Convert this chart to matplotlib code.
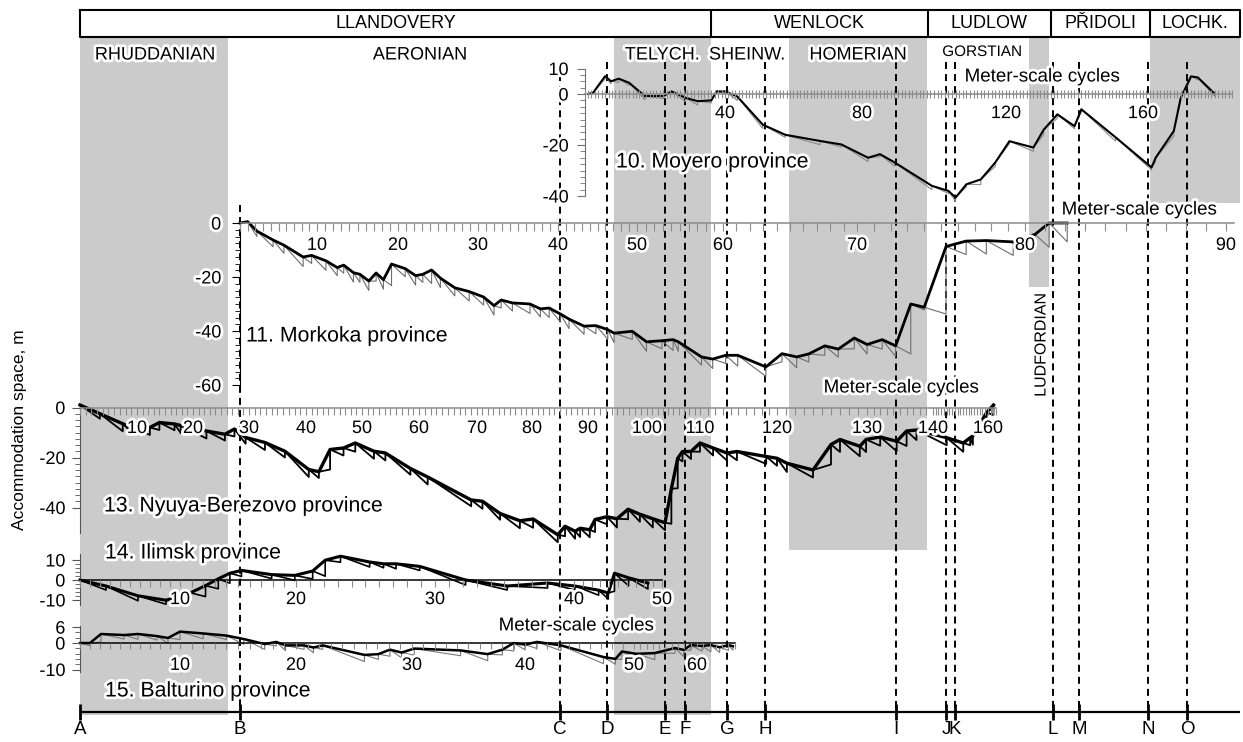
import numpy as np
import matplotlib.pyplot as plt
import matplotlib.patheffects as pe
from matplotlib.ticker import FixedLocator

plt.rcParams['font.family'] = ['Liberation Sans', 'DejaVu Sans']

W, H = 1243, 742

# common time frame: boundaries A-O, series and stages (horizontal position, px)
letters = list('ABCDEFGHIJKLMNO')
letter_t = [80, 240, 560, 607, 665, 685, 727, 765, 896, 946, 955, 1053, 1079, 1148, 1187]
series = ['LLANDOVERY', 'WENLOCK', 'LUDLOW', 'PŘIDOLI', 'LOCHK.']
series_edges = [80, 711, 928, 1051, 1150, 1240]
stages = ['RHUDDANIAN', 'AERONIAN', 'TELYCH.', 'SHEINW.', 'HOMERIAN', 'GORSTIAN']
stage_t = [155, 420, 662, 747, 858, 982]
grey_from = [80, 614, 789, 1029, 1150]
grey_to = [228, 711, 927, 1049, 1240]

# 10. Moyero province: cycle number -> accommodation (m), tooth depth
moy_tick_c = [0, 40, 80, 120, 160]
moy_tick_t = [588, 725, 862, 1006, 1143]
moy_c = [0, 1.5, 5, 6.7, 9, 12, 16.6, 22, 24.4, 28.5, 32, 36, 37.5, 40, 43.6, 51, 57.6,
         67.7, 74, 81.7, 85, 89, 99.4, 104, 106, 109, 113, 117, 121, 128, 131, 135,
         140, 142, 152, 162.5, 163.7, 169, 171, 174, 176, 181]
moy_v = [0, 0.5, 7, 5, 6, 4.4, -0.8, -0.8, 1, -1.5, -2.8, -2.5, 1, 1, -1, -12, -16,
         -18.4, -19.8, -25, -23.6, -26.8, -36, -38, -40.6, -35.4, -33.5, -26.9, -18.5,
         -21, -14, -8, -12.6, -6, -17, -28.8, -25, -14.5, -1.6, 6.9, 6.5, 0]
moy_d = [0, 0.5, 1, 1, 1.5, 1, 1.5, 1, 0.5, 1.5, 1.5, 1, 0.5, 1, 1.5, 1.5, 1, 1.5, 1, 1.5,
         1, 1.5, 1.5, 1, 1.5, 1, 2, 1.5, 1, 1.5, 2, 1.5, 1, 1, 1.5, 1, 1.5, 2, 1, 1,
         1, 1]

# 11. Morkoka province
mor_tick_c = [0, 10, 20, 30, 40, 50, 60, 70, 80, 90]
mor_tick_t = [240, 317, 398, 478, 558, 637, 723, 857, 1025, 1226]
mor_c = [0, 1, 2.2, 4.3, 5.7, 8.2, 9.3, 11.1, 12.5, 13.3, 14.5, 15.3, 16.4, 17.3, 18.2,
         19.2, 20.9, 22.2, 23.1, 24.2, 25.3, 27.1, 28.9, 30.7, 32, 32.9, 34.3, 36.5,
         37.8, 38.9, 40.3, 41.4, 43.3, 44.8, 46.3, 47.1, 49.4, 51.1, 52.9, 54.2, 54.8,
         57.5, 58.8, 60.2, 61.1, 63.2, 64.4, 65.5, 66.4, 67.6, 68.6, 69.8, 70.6, 71.5,
         72.3, 73.2, 74, 75.3, 76.5, 77.7, 79.3, 80.5, 81.2, 82.1]
mor_v = [0, 0.5, -3, -6.3, -8.2, -12.6, -12, -14, -16.5, -15.6, -18.4, -19, -21.5, -18.5,
         -21, -15.2, -16.9, -19.5, -19, -17.4, -20.4, -24, -25.4, -27.4, -30.6, -28.5,
         -29.6, -30, -31.8, -31.5, -33.7, -35.6, -38.2, -38, -39.5, -40.8, -40.1, -44,
         -43.6, -43.2, -44, -49.6, -50.4, -49, -49, -53.3, -48.4, -49.6, -48.5, -45.5,
         -46.7, -42.6, -45, -43.2, -45.5, -30, -31.2, -8.7, -6.7, -6.5, -7, -4.2, 0, 0]
mor_d = [0, 0, 2, 2.5, 3, 3.5, 3, 3.5, 3, 3, 3.5, 3, 3.5, 3, 3.5, 8, 3, 3.5, 3, 5,
         3.5, 3, 3.5, 3, 3.5, 3, 3, 3.5, 3, 3.5, 3, 3.5, 3, 3, 3.5, 3.5, 3, 3.5, 3, 4,
         3.5, 3, 3.5, 3, 4, 3.5, 3, 4, 3, 3.5, 3, 4, 3.5, 3.5, 4, 18.5, 1, 25, 5, 5,
         5, 6, 9, 7]

# 13. Nyuya-Berezovo province
nyu_tick_c = [0, 10, 20, 30, 40, 50, 60, 70, 80, 90, 100, 110, 120, 130, 140, 160]
nyu_tick_t = [80, 137, 193, 249, 306, 362, 419, 477, 532, 588, 647, 700, 777, 867, 933, 988]
nyu_c = [0, 3.5, 7.5, 9.3, 12.3, 14, 16.7, 17.8, 22.4, 25.7, 27.4, 29.4, 32.8, 36.3,
         40.5, 42.3, 44.3, 46.7, 48.8, 52.1, 54.1, 58.5, 61.5, 69, 71, 74.2, 77.8, 80.2,
         84.6, 85.9, 87.7, 88.6, 90.3, 91.2, 93.2, 94.9, 96.8, 98.8, 101.1, 103.4,
         104.6, 105.8, 106.7, 108.3, 110, 111.7, 113.5, 114.8, 118.6, 120, 121.1, 124,
         126, 127, 129.2, 129.9, 132, 134.5, 136, 137.5, 145, 151, 153.5, 154.5, 159.5,
         162]
nyu_v = [1, -2.5, -6.5, -8, -8, -6, -6.6, -7.2, -9.4, -10.7, -8.6, -12, -14, -17.5,
         -24.8, -25.7, -16.8, -16.2, -14.2, -17.5, -18.2, -24.4, -27.8, -37, -37.5,
         -42.4, -45.3, -44.6, -50.9, -47.5, -49.5, -48.3, -48.9, -44.8, -43.7, -44.5,
         -40.7, -42.7, -44.5, -46.1, -32.5, -20.3, -17.6, -17.6, -14.2, -16.2, -18.2,
         -17.6, -19.6, -20.3, -22.3, -25, -14.8, -12.8, -15.5, -12.8, -11.8, -13.5,
         -9.4, -9, -12.1, -14.2, -12.1, -11.4, -2, 1]
nyu_d = [0, 2, 3, 2.5, 3, 3, 2.5, 3, 3, 2.5, 3, 2.5, 3, 2.5, 3, 2.5, 8, 3, 3.5, 3,
         3, 2.5, 3, 2.5, 3, 2.5, 3, 3.5, 3, 4, 3, 3.5, 3, 5, 3, 3.5, 4, 3, 3.5, 3,
         14, 12, 4, 3, 3.5, 3, 3, 3.5, 3, 3, 3.5, 3, 8, 5, 4, 5, 3.5, 4, 6, 4,
         3, 3.5, 3, 3.5, 3, 4]

# 14. Ilimsk province
ili_tick_c = [0, 10, 20, 30, 40, 50]
ili_tick_t = [80, 180, 296, 435, 574, 662]
ili_c = [0, 2.6, 5.8, 8.6, 10.9, 12.2, 13.3, 14.3, 15.3, 17.9, 19.9, 21.2, 22.1, 23.2,
         25.3, 26.3, 27.2, 28.9, 32.2, 35.2, 38.1, 40.1, 42.8, 43.9, 44.6, 46.2, 48.4]
ili_v = [0, -3.0, -7.9, -10.1, -6.4, -2.8, 0.6, 3.4, 4.8, 2.7, 2.3, 4.5, 9.9, 11.9,
         9.0, 8.1, 8.1, 6.8, 0, -3.0, -1.5, -3.0, -5.1, -6.5, 3.4, 1.1, -1.5]
ili_d = [0, 2, 2.5, 2, 5, 5.5, 5, 5, 3, 2, 2.5, 4, 8, 3, 2.5, 2, 2.5, 2, 2.5, 2, 2.5,
         2, 2.5, 3, 9, 4, 3]

# 15. Balturino province
bal_tick_c = [0, 10, 20, 30, 40, 50, 60]
bal_tick_t = [80, 180, 296, 412, 525, 634, 697]
bal_c = [0, 1, 2.1, 4.4, 5.8, 7.7, 8.8, 10, 12, 14, 15.5, 17.3, 18.3, 19.1, 20.7, 21.5,
         22.3, 25.9, 27.1, 28.1, 29.1, 30.2, 34.3, 36.7, 38, 39, 40, 41.1, 43.3, 47.2,
         48.3, 48.9, 50.4, 53.3, 56.5, 57.9, 59, 60.8, 62.2, 63.6, 65, 65.7]
bal_v = [0, 0, 3.4, 3.0, 3.4, 2.6, 1.9, 4.3, 3.6, 2.8, 1.5, -0.4, 0.4, -0.9, -0.9, -1.7,
         -0.9, -4.5, -4.2, -2.5, -3.6, -2.1, -2.8, -4.2, -2.5, 0, -0.6, 0.4, -0.9, -5.3,
         -6.0, -3.2, -4.1, -3.8, -1.9, -2.6, -0.8, -1.1, -0.8, -1.6, -0.8, -1.2]
bal_d = [0, 1, 3, 1.5, 2, 1.5, 2, 3, 2, 1.5, 2, 2, 1.5, 2, 1.5, 2, 1.5, 2.5, 2, 2.5,
         2, 2.5, 2, 2.5, 2, 3, 2, 2.5, 2, 2.5, 2, 3, 2, 2.5, 2, 2.5, 2, 2, 2.5, 2,
         2, 1.5]

halo = [pe.withStroke(linewidth=4, foreground='white')]
GREY = '#cbcbcb'
AX = '#8c8c8c'

fig = plt.figure(figsize=(W / 100, H / 100), dpi=100)

# background: header, stage bands, boundary lines
bg = fig.add_axes([0, 0, 1, 1])
bg.set_xlim(0, W)
bg.set_ylim(H, 0)
bg.axis('off')

band_bottom = [715, 715, 550, 287, 203]
for a, b, bot in zip(grey_from, grey_to, band_bottom):
    bg.fill_between([a, b], 37, bot, color=GREY, lw=0, zorder=0)

bg.plot([80, 1240, 1240, 80, 80], [10, 10, 37, 37, 10], color='black', lw=1.5)
bg.vlines(series_edges[1:-1], 10, 37, color='black', lw=1.5)
for name, a, b in zip(series, series_edges[:-1], series_edges[1:]):
    bg.text((a + b) / 2, 24, name, ha='center', va='center', fontsize=13)

dash_top = [205, 205] + [62] * 13
bg.vlines(letter_t[1:], dash_top[1:], 712, colors='black', lw=1.4,
          linestyles=(0, (3.6, 2.6)), zorder=1)
bg.hlines(712, 80, 1240, color='black', lw=1.6)
bg.vlines(letter_t, 704, 720, color='black', lw=2)
for l, t in zip(letters, letter_t):
    bg.text(t, 721, l, ha='center', va='top', fontsize=13.5)


def province(tick_c, tick_t, y0, k):
    ac = np.asarray(tick_c, float)
    at = np.asarray(tick_t, float)
    s0 = (at[1] - at[0]) / (ac[1] - ac[0])
    s1 = (at[-1] - at[-2]) / (ac[-1] - ac[-2])
    at = np.r_[at[0] - 500 * s0, at, at[-1] + 500 * s1]
    ac = np.r_[ac[0] - 500, ac, ac[-1] + 500]

    def fwd(c):
        return np.interp(c, ac, at)

    def inv(t):
        return np.interp(t, at, ac)

    ax = fig.add_axes([0, 0, 1, 1])
    ax.patch.set_visible(False)
    ax.set_xscale('function', functions=(fwd, inv))
    ax.set_xlim(inv(0), inv(W))
    ax.set_ylim((y0 - H) / k, y0 / k)
    ax.set_axisbelow(False)
    ax.spines[['top', 'right']].set_visible(False)
    return ax


def frame(ax, cx, cy, yb, xticks, yticks, ystep, xcol, ycol, tcol, xdir, xlen, xpad, ypad):
    ax.spines['bottom'].set_position(('data', 0))
    ax.spines['bottom'].set_bounds(*cx)
    ax.spines['bottom'].set_color(xcol)
    ax.spines['bottom'].set_linewidth(1.1)
    ax.spines['left'].set_position(('data', cy))
    ax.spines['left'].set_bounds(*yb)
    ax.spines['left'].set_color(ycol)
    ax.set_xticks(xticks, [str(t) for t in xticks], path_effects=halo)
    ax.xaxis.set_minor_locator(FixedLocator(np.arange(np.ceil(cx[0]), cx[1] + 0.5)))
    ax.set_yticks(yticks, [str(t) for t in yticks], path_effects=halo)
    ax.yaxis.set_minor_locator(FixedLocator(np.arange(yticks[-1], yticks[0] + 0.01, ystep)))
    ax.tick_params(axis='x', which='both', direction=xdir, length=xlen, width=0.8,
                   color=tcol, labelsize=13, pad=xpad)
    ax.tick_params(axis='y', which='major', direction='out', length=5.5, width=0.8,
                   color=ycol, labelsize=13, pad=ypad)
    ax.tick_params(axis='y', which='minor', direction='out', length=3.5, width=0.6,
                   color=ycol)


def curve(ax, c, v, d, thin_col, thin_lw, lw):
    c = np.asarray(c, float)
    v = np.asarray(v, float)
    d = np.asarray(d, float)
    xs = np.column_stack([c, c]).ravel()[1:]
    ys = np.column_stack([v - d, v]).ravel()[1:]
    ax.plot(xs, ys, color=thin_col, lw=thin_lw, clip_on=False, zorder=2)
    ax.plot(c, v, color='black', lw=lw, clip_on=False, zorder=2.2,
            solid_joinstyle='round')


# 10. Moyero
ax = province(moy_tick_c, moy_tick_t, 94, 2.55)
frame(ax, (-1, 186), -1, (-40, 10), [40, 80, 120, 160], [10, 0, -20, -40], 2.5,
      AX, '#707070', AX, 'inout', 6, 5, 6)
curve(ax, moy_c, moy_v, moy_d, '#8a8a8a', 0.8, 1.5)

# 11. Morkoka
ax = province(mor_tick_c, mor_tick_t, 223, 2.7)
frame(ax, (0, 90.4), 0, (-62, 0), [10, 20, 30, 40, 50, 60, 70, 80, 90],
      [0, -20, -40, -60], 2.5, AX, 'black', AX, 'out', 6, 4, 8)
curve(ax, mor_c, mor_v, mor_d, '#6e6e6e', 0.8, 2.0)

# 13. Nyuya-Berezovo
ax = province(nyu_tick_c, nyu_tick_t, 407.5, 2.5)
frame(ax, (0, 163), 0, (-50, 0),
      [10, 20, 30, 40, 50, 60, 70, 80, 90, 100, 110, 120, 130, 140, 160],
      [0, -20, -40], 2.5, AX, '#555555', AX, 'out', 5, 4, 5)
curve(ax, nyu_c, nyu_v, nyu_d, 'black', 1.3, 2.4)

# 14. Ilimsk
ax = province(ili_tick_c, ili_tick_t, 580, 2.0)
frame(ax, (0, 50), 0, (-12.5, 13), [10, 20, 30, 40, 50], [10, 0, -10], 2,
      'black', '#555555', AX, 'out', 5, 3, 5)
curve(ax, ili_c, ili_v, ili_d, 'black', 1.2, 2.2)

# 15. Balturino
ax = province(bal_tick_c, bal_tick_t, 643, 2.65)
frame(ax, (0, 66), 0, (-11, 6.5), [10, 20, 30, 40, 50, 60], [6, 0, -10], 2,
      'black', '#555555', AX, 'out', 4.5, 5.5, 5)
curve(ax, bal_c, bal_v, bal_d, '#777777', 0.8, 1.8)

# labels on top
fg = fig.add_axes([0, 0, 1, 1])
fg.set_xlim(0, W)
fg.set_ylim(H, 0)
fg.axis('off')
for s, t in zip(stages, stage_t):
    fs = 11 if s == 'GORSTIAN' else 13
    fg.text(t, 55 if fs == 13 else 52, s, ha='center', va='center', fontsize=fs,
            path_effects=halo)
fg.text(1041, 345, 'LUDFORDIAN', rotation=90, ha='center', va='center',
        fontsize=11.5, path_effects=halo)

fg.text(616, 162, '10. Moyero province', fontsize=15.3, va='center', path_effects=halo)
fg.text(246, 336, '11. Morkoka province', fontsize=15.3, va='center', path_effects=halo)
fg.text(104, 506, '13. Nyuya-Berezovo province', fontsize=15.3, va='center',
        path_effects=halo)
fg.text(105, 553, '14. Ilimsk province', fontsize=15.3, va='center', path_effects=halo)
fg.text(105, 691, '15. Balturino province', fontsize=15.3, va='center',
        path_effects=halo)

for x, y in [(1042, 77), (1139, 210), (901, 388), (576, 626)]:
    fg.text(x, y, 'Meter-scale cycles', fontsize=13.5, ha='center', va='center',
            path_effects=halo)

fg.text(20, 430, 'Accommodation space, m', rotation=90, ha='center', va='center',
        fontsize=12.5)

fig.savefig('out.png', dpi=100, facecolor='white')
